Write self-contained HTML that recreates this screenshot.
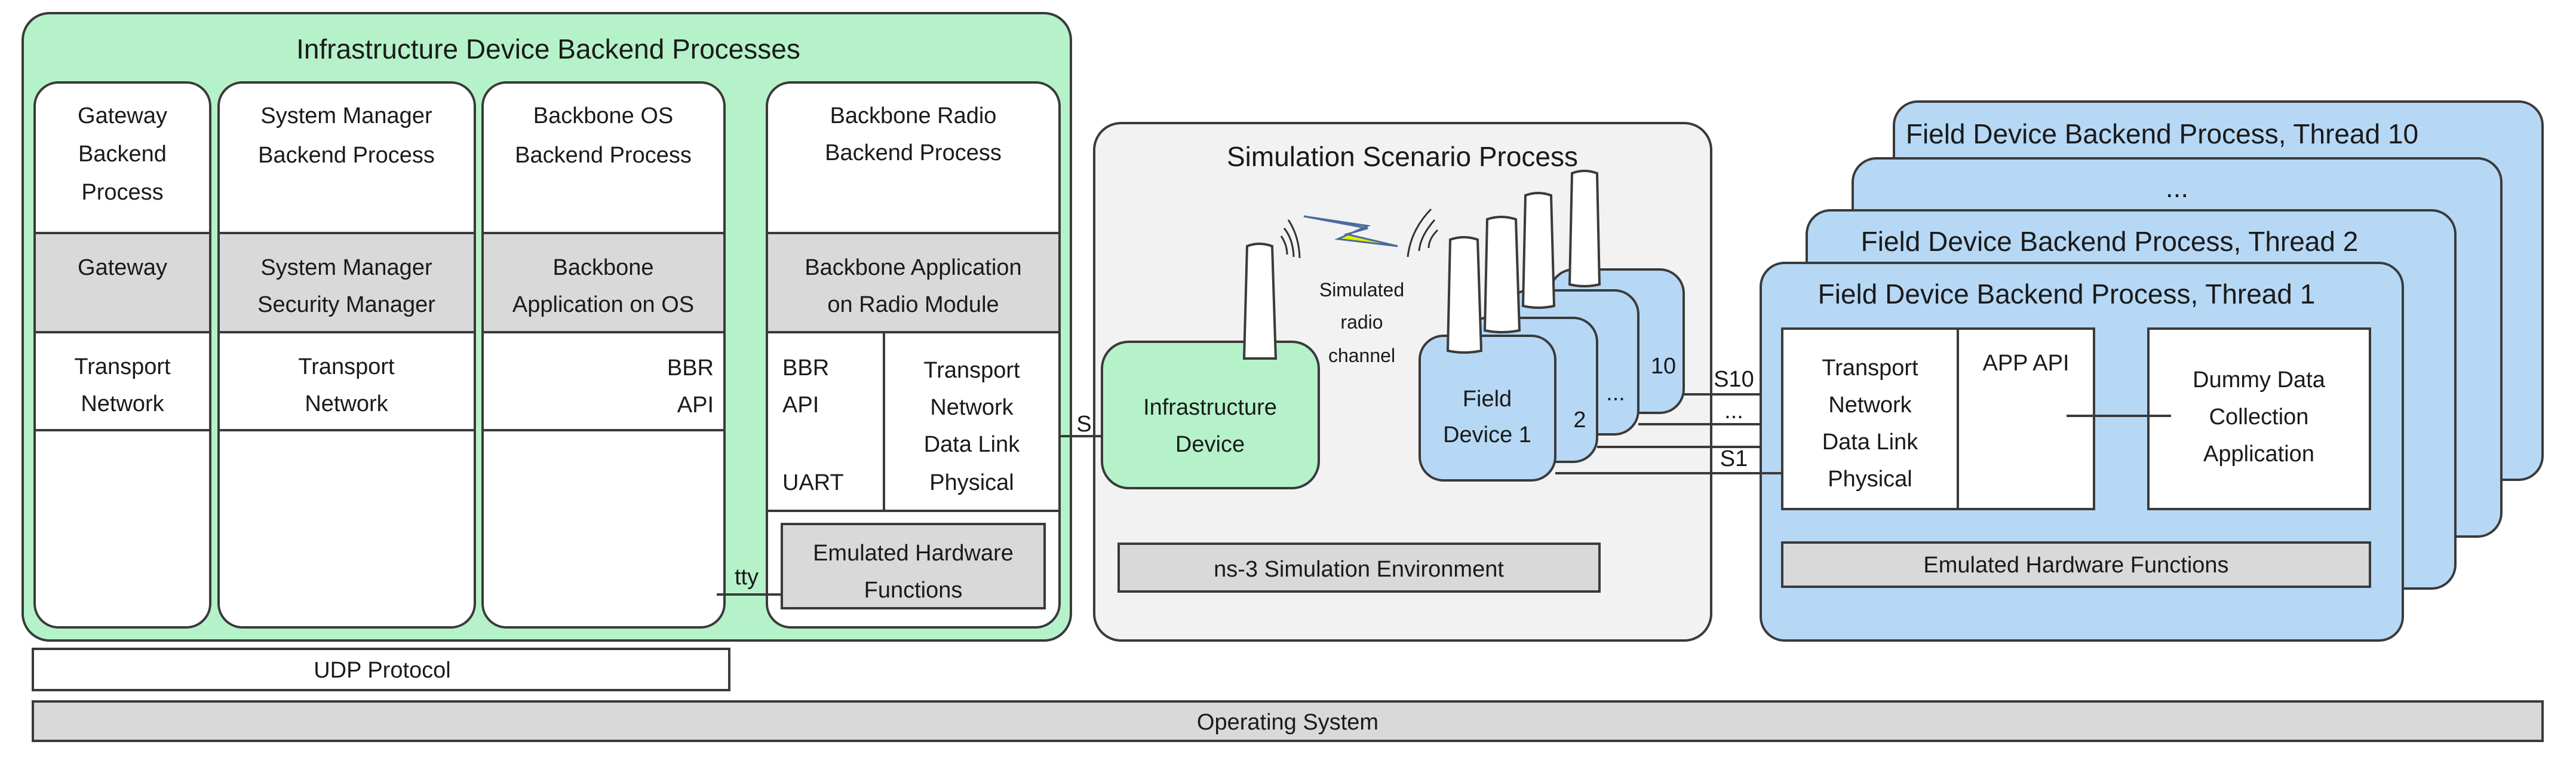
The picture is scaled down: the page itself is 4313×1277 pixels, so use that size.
<!DOCTYPE html>
<html><head><meta charset="utf-8"><style>
html,body{margin:0;padding:0;background:#fff;}
svg{display:block;}
text{font-family:"Liberation Sans",sans-serif;fill:#1a1a1a;}
</style></head><body>
<svg width="4313" height="1277" viewBox="0 0 4313 1277" xmlns="http://www.w3.org/2000/svg">
<g stroke="#3a3a3a" stroke-width="4">
<!-- green outer -->
<rect x="38" y="22" width="1755" height="1050" rx="45" fill="#b5f2c9"/>
<!-- columns -->
<rect x="58" y="138" width="294" height="912" rx="40" fill="#fff"/>
<rect x="366" y="138" width="429" height="912" rx="40" fill="#fff"/>
<rect x="808" y="138" width="405" height="912" rx="40" fill="#fff"/>
<rect x="1284" y="138" width="490" height="912" rx="40" fill="#fff"/>
<rect x="58" y="390" width="294" height="166" fill="#d9d9d9"/>
<rect x="366" y="390" width="429" height="166" fill="#d9d9d9"/>
<rect x="808" y="390" width="405" height="166" fill="#d9d9d9"/>
<rect x="1284" y="390" width="490" height="166" fill="#d9d9d9"/>
<line x1="58" y1="720" x2="352" y2="720"/>
<line x1="366" y1="720" x2="795" y2="720"/>
<line x1="808" y1="720" x2="1213" y2="720"/>
<line x1="1284" y1="855" x2="1774" y2="855"/>
<line x1="1480" y1="556" x2="1480" y2="855"/>
<rect x="1309" y="877" width="440" height="141" fill="#d9d9d9"/>
<line x1="1200" y1="995" x2="1309" y2="995"/>
<!-- UDP / OS -->
<rect x="55" y="1086" width="1166" height="69" fill="#fff"/>
<rect x="55" y="1174" width="4202" height="66" fill="#d9d9d9"/>
<!-- simulation -->
<rect x="1832" y="206" width="1033" height="866" rx="45" fill="#f2f2f2"/>
<rect x="1873" y="910" width="805" height="80" fill="#d9d9d9"/>
<line x1="1774" y1="730" x2="1848" y2="730"/>
<rect x="1845" y="572" width="363" height="245" rx="45" fill="#b5f2c9"/>
<path d="M2083 600 L2088 412 Q2108 404 2130 412 L2136 600 Z" fill="#fff"/>
<!-- field devices -->
<rect x="2595" y="451" width="224" height="240" rx="40" fill="#b6d8f5"/>
<path d="M2628 476 L2632 290 Q2652 282 2674 290 L2678 476 Q2653 482 2628 476 Z" fill="#fff"/>
<rect x="2520" y="486" width="223" height="241" rx="40" fill="#b6d8f5"/>
<path d="M2550 512 L2554 327 Q2575 319 2597 327 L2602 512 Q2576 518 2550 512 Z" fill="#fff"/>
<rect x="2450" y="532" width="224" height="241" rx="40" fill="#b6d8f5"/>
<path d="M2486 553 L2490 367 Q2513 359 2538 367 L2544 553 Q2515 559 2486 553 Z" fill="#fff"/>
<rect x="2377" y="562" width="227" height="242" rx="40" fill="#b6d8f5"/>
<path d="M2424 587 L2428 401 Q2451 393 2474 401 L2480 587 Q2452 593 2424 587 Z" fill="#fff"/>
<line x1="2819" y1="660" x2="2990" y2="660"/>
<line x1="2743" y1="710" x2="2990" y2="710"/>
<line x1="2674" y1="748" x2="2990" y2="748"/>
<line x1="2604" y1="792" x2="2990" y2="792"/>
<!-- threads -->
<rect x="3171" y="170" width="1086" height="633" rx="40" fill="#b6d8f5"/>
<rect x="3102" y="265" width="1086" height="633" rx="40" fill="#b6d8f5"/>
<rect x="3025" y="352" width="1086" height="633" rx="40" fill="#b6d8f5"/>
<rect x="2948" y="440" width="1075" height="632" rx="40" fill="#b6d8f5"/>
<rect x="2984" y="550" width="522" height="302" fill="#fff"/>
<line x1="3278" y1="550" x2="3278" y2="852"/>
<rect x="3597" y="550" width="371" height="302" fill="#fff"/>
<line x1="3460" y1="696" x2="3635" y2="696"/>
<rect x="2984" y="908" width="984" height="74" fill="#d9d9d9"/>
<line x1="2604" y1="792" x2="2984" y2="792"/>
</g>
<!-- radio waves -->
<g fill="none" stroke="#333" stroke-width="3">
<path d="M2157 368 Q2175 395 2176 432"/>
<path d="M2150 382 Q2165 400 2166 430"/>
<path d="M2145 395 Q2155 410 2155 426"/>
<path d="M2396 350 Q2362 385 2357 430"/>
<path d="M2402 368 Q2378 395 2376 420"/>
<path d="M2407 385 Q2392 400 2392 415"/>
</g>
<path d="M2183 362 L2290 378 L2240 400 L2340 412 L2255 392 L2290 382 Z" fill="#e0f000" stroke="#4a6aa0" stroke-width="3"/>
<!-- text -->
<g font-size="46" text-anchor="middle">
<text x="918" y="98">Infrastructure Device Backend Processes</text>
<text x="2348" y="278">Simulation Scenario Process</text>
<text x="3620" y="240">Field Device Backend Process, Thread 10</text>
<text x="3645" y="330">...</text>
<text x="3532" y="420">Field Device Backend Process, Thread 2</text>
<text x="3460" y="508">Field Device Backend Process, Thread 1</text>
</g>
<g font-size="38" text-anchor="middle">
<text x="205" y="206">Gateway</text><text x="205" y="270">Backend</text><text x="205" y="334">Process</text>
<text x="205" y="460">Gateway</text>
<text x="205" y="626">Transport</text><text x="205" y="688">Network</text>
<text x="580" y="206">System Manager</text><text x="580" y="272">Backend Process</text>
<text x="580" y="460">System Manager</text><text x="580" y="522">Security Manager</text>
<text x="580" y="626">Transport</text><text x="580" y="688">Network</text>
<text x="1010" y="206">Backbone OS</text><text x="1010" y="272">Backend Process</text>
<text x="1010" y="460">Backbone</text><text x="1010" y="522">Application on OS</text>
<text x="1195" y="628" text-anchor="end">BBR</text><text x="1195" y="690" text-anchor="end">API</text>
<text x="1529" y="206">Backbone Radio</text><text x="1529" y="268">Backend Process</text>
<text x="1529" y="460">Backbone Application</text><text x="1529" y="522">on Radio Module</text>
<text x="1310" y="628" text-anchor="start">BBR</text><text x="1310" y="690" text-anchor="start">API</text>
<text x="1310" y="820" text-anchor="start">UART</text>
<text x="1627" y="632">Transport</text><text x="1627" y="694">Network</text><text x="1627" y="756">Data Link</text><text x="1627" y="820">Physical</text>
<text x="1529" y="938">Emulated Hardware</text><text x="1529" y="1000">Functions</text>
<text x="1250" y="978">tty</text>
<text x="640" y="1134">UDP Protocol</text>
<text x="2156" y="1221">Operating System</text>
<text x="2275" y="965">ns-3 Simulation Environment</text>
<text x="1815" y="722">S</text>
<text x="2026" y="694">Infrastructure</text><text x="2026" y="756">Device</text>
<text x="2490" y="680">Field</text><text x="2490" y="740">Device 1</text>
<text x="2645" y="715">2</text><text x="2705" y="670">...</text><text x="2785" y="625">10</text>
<text x="2903" y="647">S10</text><text x="2903" y="700">...</text><text x="2903" y="780">S1</text>
<text x="3131" y="628">Transport</text><text x="3131" y="690">Network</text><text x="3131" y="752">Data Link</text><text x="3131" y="814">Physical</text>
<text x="3392" y="620">APP API</text>
<text x="3782" y="648">Dummy Data</text><text x="3782" y="710">Collection</text><text x="3782" y="772">Application</text>
<text x="3476" y="958">Emulated Hardware Functions</text>
</g>
<g font-size="32" text-anchor="middle">
<text x="2280" y="496">Simulated</text><text x="2280" y="550">radio</text><text x="2280" y="606">channel</text>
</g>
</svg>
</body></html>
